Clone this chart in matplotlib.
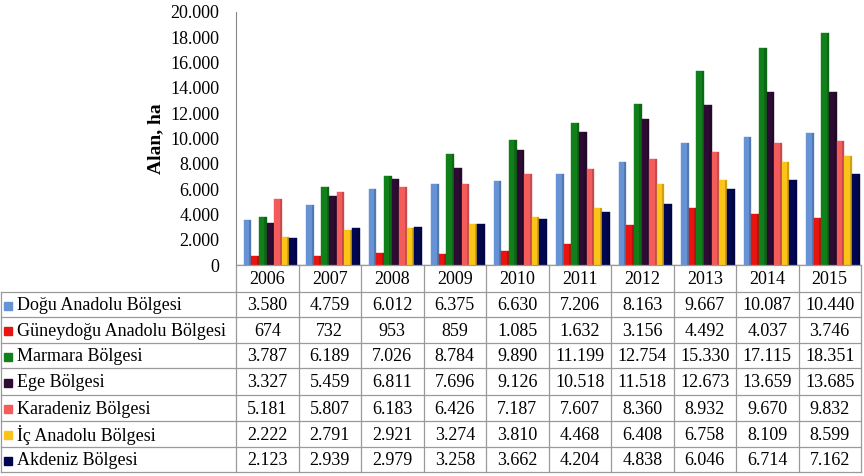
import numpy as np
import matplotlib.pyplot as plt
from matplotlib.patches import Rectangle

plt.rcParams['font.family'] = ['Liberation Serif', 'DejaVu Serif']

years = ["2006", "2007", "2008", "2009", "2010", "2011", "2012", "2013", "2014", "2015"]
regions = ["Doğu Anadolu Bölgesi", "Güneydoğu Anadolu Bölgesi", "Marmara Bölgesi",
           "Ege Bölgesi", "Karadeniz Bölgesi", "İç Anadolu Bölgesi", "Akdeniz Bölgesi"]

dogu = [3580, 4759, 6012, 6375, 6630, 7206, 8163, 9667, 10087, 10440]
guneydogu = [674, 732, 953, 859, 1085, 1632, 3156, 4492, 4037, 3746]
marmara = [3787, 6189, 7026, 8784, 9890, 11199, 12754, 15330, 17115, 18351]
ege = [3327, 5459, 6811, 7696, 9126, 10518, 11518, 12673, 13659, 13685]
karadeniz = [5181, 5807, 6183, 6426, 7187, 7607, 8360, 8932, 9670, 9832]
ic_anadolu = [2222, 2791, 2921, 3274, 3810, 4468, 6408, 6758, 8109, 8599]
akdeniz = [2123, 2939, 2979, 3258, 3662, 4204, 4838, 6046, 6714, 7162]

series = [dogu, guneydogu, marmara, ege, karadeniz, ic_anadolu, akdeniz]
colors = ["#6593D6", "#E8140F", "#11801A", "#2E0B33", "#F45B5B", "#FCC419", "#00064F"]

W, H = 864, 476
fig = plt.figure(figsize=(W / 100, H / 100), dpi=100)

# pixel geometry of plot / table
x0, x1 = 236, 861
y_top, y_zero = 12, 265
row_edges = [265, 292, 317, 343, 368, 395, 421, 447, 472]
fs = 13

ax = fig.add_axes([x0 / W, 1 - y_zero / H, (x1 - x0) / W, (y_zero - y_top) / H])
n = len(years)
x = np.arange(n)
bw = 0.122
for i, (vals, c) in enumerate(zip(series, colors)):
    off = (i - 3) * bw + 0.05
    ax.bar(x + off, vals, width=bw, color=c, edgecolor=c, linewidth=0.3, zorder=2)
    # darker side strip for a slight 3d look
    ax.bar(x + off + bw * 0.35, vals, width=bw * 0.3, color="black", alpha=0.18,
           linewidth=0, zorder=3)

ax.set_xlim(-0.5, n - 0.5)
ax.set_ylim(0, 20000)
ax.set_yticks(np.arange(0, 20001, 2000))
ax.set_yticklabels([f"{v:,}".replace(",", ".") if v else "0" for v in range(0, 20001, 2000)],
                   fontsize=fs)
ax.set_xticks([])
ax.tick_params(axis="y", length=0, pad=12)
for s in ["top", "right", "bottom"]:
    ax.spines[s].set_visible(False)
ax.spines["left"].set_color("#888888")
ax.axhline(0, color="#aaaaaa", lw=1, zorder=1)
ax.set_ylabel("Alan, ha", fontsize=14, fontweight="bold", labelpad=4)

# data table drawn in pixel coordinates
tb = fig.add_axes([0, 0, 1, 1])
tb.set_xlim(0, W)
tb.set_ylim(H, 0)
tb.axis("off")
lc = "#9a9a9a"
col_edges = np.linspace(x0, x1, n + 1)

for y in row_edges[1:]:
    tb.plot([1, x1], [y, y], color=lc, lw=0.9)
tb.plot([x0, x1], [row_edges[0], row_edges[0]], color=lc, lw=0.9)
tb.plot([1, 1], [row_edges[1], row_edges[-1]], color=lc, lw=0.9)
for cx in col_edges:
    tb.plot([cx, cx], [row_edges[0], row_edges[-1]], color=lc, lw=0.9)

for j, yr in enumerate(years):
    tb.text((col_edges[j] + col_edges[j + 1]) / 2, (row_edges[0] + row_edges[1]) / 2 + 1,
            yr, ha="center", va="center", fontsize=fs)

for i, (name, vals, c) in enumerate(zip(regions, series, colors)):
    yc = (row_edges[i + 1] + row_edges[i + 2]) / 2 + 1
    tb.add_patch(Rectangle((4, yc - 4), 8, 8, color=c))
    tb.text(17, yc, name, ha="left", va="center", fontsize=fs)
    for j, v in enumerate(vals):
        tb.text((col_edges[j] + col_edges[j + 1]) / 2, yc,
                f"{v:,}".replace(",", "."), ha="center", va="center", fontsize=fs)

fig.savefig("out.png", dpi=100)
